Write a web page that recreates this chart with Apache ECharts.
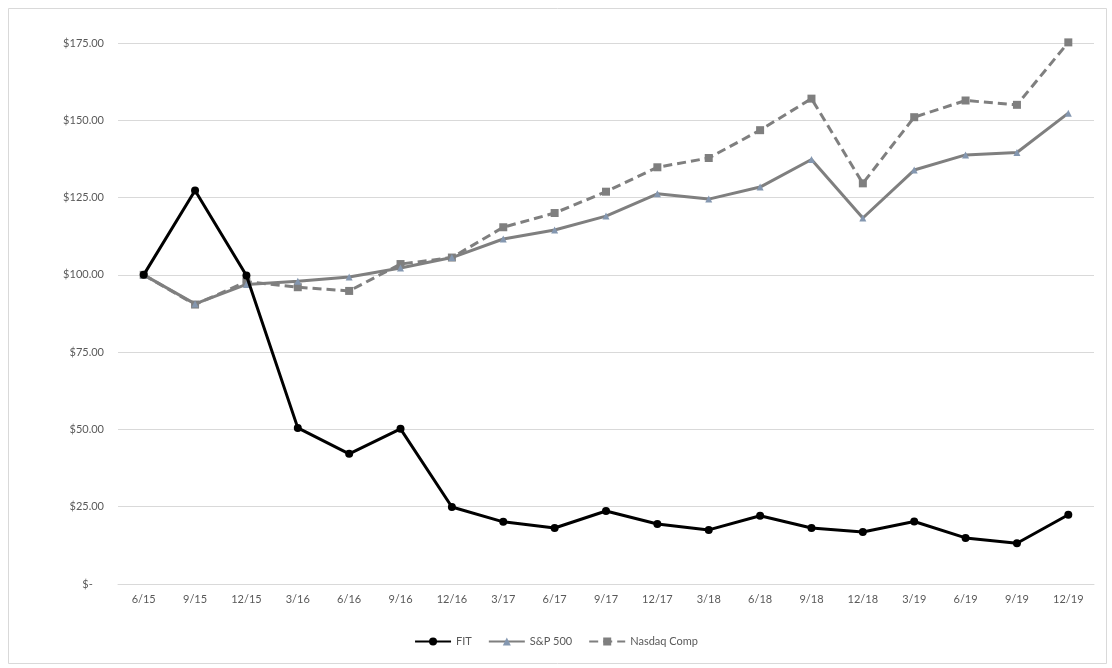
<!DOCTYPE html>
<html>
<head>
<meta charset="utf-8">
<script src="https://cdn.jsdelivr.net/npm/echarts@6/dist/echarts.min.js"></script>
<style>html,body{margin:0;padding:0;background:#fff;}#c{width:1112px;height:668px;}</style>
</head>
<body>
<div id="c"></div>
<script>
const categories = ['6/15','9/15','12/15','3/16','6/16','9/16','12/16','3/17','6/17','9/17','12/17','3/18','6/18','9/18','12/18','3/19','6/19','9/19','12/19'];
const fit = [100, 127.3, 99.8, 50.5, 42.1, 50.2, 24.9, 20.1, 18.1, 23.6, 19.4, 17.5, 22.1, 18.1, 16.8, 20.2, 14.9, 13.2, 22.4];
const sp500 = [100, 90.6, 96.9, 97.9, 99.3, 102.2, 105.6, 111.6, 114.5, 119.0, 126.2, 124.5, 128.4, 137.3, 118.4, 133.9, 138.8, 139.6, 152.3];
const nasdaq = [100, 90.4, 97.8, 96.0, 94.8, 103.5, 105.6, 115.4, 120.0, 126.9, 134.8, 137.8, 146.8, 157.0, 129.6, 151.0, 156.4, 155.0, 175.2];
const yTicks = [0, 25, 50, 75, 100, 125, 150, 175];

const chart = echarts.init(document.getElementById('c'));
const font = 'Lato, "Open Sans", sans-serif';
chart.setOption({
  animation: false,
  backgroundColor: '#fff',
  graphic: [{
    type: 'rect', left: 6, top: 6, shape: { width: 1098, height: 655 },
    style: { fill: 'none', stroke: '#d9d9d9', lineWidth: 1 }, silent: true
  }],
  grid: { left: 118, right: 18, top: 43, bottom: 84 },
  legend: {
    bottom: 16, left: 'center',
    itemWidth: 36, itemHeight: 10, itemGap: 16,
    textStyle: { color: '#595959', fontSize: 11, fontFamily: font },
    data: ['FIT', 'S&P 500', 'Nasdaq Comp']
  },
  xAxis: {
    type: 'category', data: categories, boundaryGap: true,
    axisLine: { show: true, lineStyle: { color: '#d9d9d9' } },
    axisTick: { show: false },
    axisLabel: { color: '#595959', fontSize: 11, fontFamily: font, margin: 10 }
  },
  yAxis: {
    type: 'value', min: yTicks[0], max: yTicks[yTicks.length - 1], interval: 25,
    axisLine: { show: false }, axisTick: { show: false },
    splitLine: { lineStyle: { color: '#d9d9d9' } },
    axisLabel: {
      color: '#595959', fontSize: 11, fontFamily: font, margin: 14,
      formatter: v => v === 0 ? '$-    ' : '$' + v.toFixed(2)
    }
  },
  series: [
    {
      name: 'FIT', type: 'line', data: fit, symbol: 'circle', symbolSize: 8, clip: false,
      lineStyle: { color: '#000', width: 3 }, itemStyle: { color: '#000' }, z: 4
    },
    {
      name: 'S&P 500', type: 'line', data: sp500, symbol: 'triangle', symbolSize: 7, clip: false,
      lineStyle: { color: '#7f7f7f', width: 3 }, itemStyle: { color: '#8497b0' }, z: 3
    },
    {
      name: 'Nasdaq Comp', type: 'line', data: nasdaq, symbol: 'rect', symbolSize: 8, clip: false,
      lineStyle: { color: '#7f7f7f', width: 3, type: [9, 5] }, itemStyle: { color: '#7f7f7f' }, z: 2
    }
  ]
});
</script>
</body>
</html>
